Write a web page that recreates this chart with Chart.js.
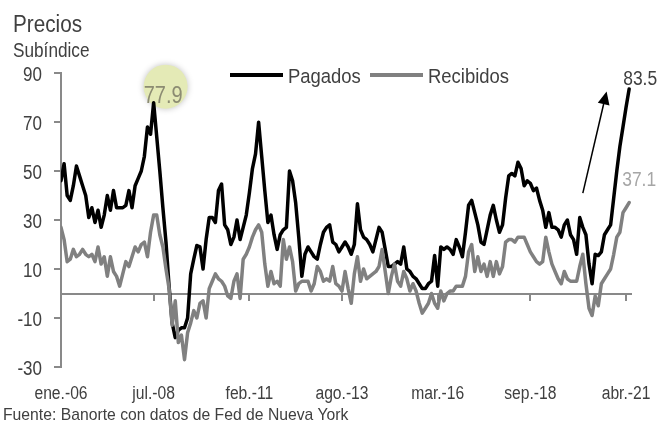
<!DOCTYPE html>
<html lang="es">
<head>
<meta charset="UTF-8">
<title>Precios - Subíndice</title>
<script src="https://cdn.jsdelivr.net/npm/chart.js@4.4.1/dist/chart.umd.min.js"></script>
<style>
  html, body { margin: 0; padding: 0; background: #ffffff; }
  #wrap {
    position: relative; width: 669px; height: 428px; overflow: hidden;
    font-family: "Liberation Sans", Arial, sans-serif; color: #404040;
  }
  #chart { position: absolute; left: 0; top: 0; }
  .txt { position: absolute; line-height: 1; white-space: nowrap; transform-origin: 0 0; }
  #titulo { left: 13px; top: 12.5px; font-size: 23px; transform: scaleX(0.9); }
  #subtitulo { left: 13px; top: 40px; font-size: 20px; transform: scaleX(0.86); }
  #fuente { left: 3px; top: 405.5px; font-size: 17px; transform: scaleX(0.925); }
</style>
</head>
<body>
<div id="wrap">
  <canvas id="chart" width="669" height="428"></canvas>
  <div id="titulo" class="txt">Precios</div>
  <div id="subtitulo" class="txt">Subíndice</div>
  <div id="fuente" class="txt">Fuente: Banorte con datos de Fed de Nueva York</div>
</div>
<script>
// Datos mensuales, ene.-2006 a may.-2021 (índice = meses desde ene.-06)
const pagados = [
  46, 53, 40, 38, 44, 52, 48, 44, 40, 31, 35, 29, // 2006
  34, 27, 32, 40, 34, 42, 35, 35, 35, 36, 42, 35, // 2007
  44, 47, 50, 56, 68, 65, 77.9, 64, 50, 35, 21, 3, // 2008
  -12, -18, -15, -14, -14, -10, 8, 14, 19.6, 19, 10, 22, // 2009
  31, 31, 29, 42, 44.7, 28, 26, 20, 23, 30, 22, 27, // 2010
  32, 41, 51, 57, 69.9, 56, 42, 29, 32, 24, 18, 24, // 2011
  26, 27, 50, 46, 37, 23, 7, 16, 19, 17, 15, 14, // 2012
  20, 25, 27, 28, 21, 20, 17, 19, 21, 19, 16, 20, // 2013
  36.6, 26, 23, 22, 20, 17, 22, 27, 25, 18, 11, 11, // 2014
  12, 13, 12, 19, 10, 9, 7, 6, 4, 2, 2, 4, // 2015
  5, 15.5, 3, 19, 18, 19, 18, 16, 22, 19, 15, 25, // 2016
  36, 38, 33, 28, 21, 20, 26, 32, 36, 30, 25, 28, // 2017
  39, 48, 49, 48, 53.6, 51, 44, 46, 45, 42, 43, 38, // 2018
  34, 27, 33, 27, 27, 26, 23, 28, 30, 24, 22, 16, // 2019
  31, 27, 24, 12, 4, 16, 15.5, 17, 24, 26, 28, 39, // 2020
  50, 60, 68, 76, 83.5 // 2021
];

const recibidos = [
  27, 22, 13, 14, 18, 15, 16, 18, 16, 15, 16, 13, // 2006
  19, 12, 15, 7, 15, 9, 7, 3, 8, 13, 11, 15, // 2007
  19, 17, 20, 21, 15, 25, 32, 32, 24, 19, 10, 2, // 2008
  -13, -3, -20, -17, -27, -16, -12, -7, -10, -4, -3, -10, // 2009
  2, 5, 8, 6, 5, 3, -1, -2, 5, 8, -2, 14, // 2010
  16, 19, 23, 26, 28, 25, 12, 3, 9, 4, 5, 3, // 2011
  22, 14, 19, 13, 1, 4, 5, 5, 5, 1, 4, 11, // 2012
  9, 5, 6, 5, 11, 4, 3, 1, 9, 2, -4, 8, // 2013
  15, 5, 10, 6, 7, 8, 9, 11, 18, 9, 0, 7, // 2014
  12, 5, 3, 9, 6, 1, 4, 1, -4, -8, -6, -4, // 2015
  0, -4, -6, 1, -3, 0, 1, 1, 3, 3, 3, 7, // 2016
  17, 20, 9, 15, 9, 12, 7, 13, 7, 13, 8, 11, // 2017
  21, 22, 22, 21, 23, 23, 23, 20, 17, 15, 13, 12, // 2018
  13, 23, 17, 12, 9, 6, 4, 9, 6, 5, 5, 5, // 2019
  11, 16, 4, -6, -9, -1, -5, 4, 6, 8, 10, 16, // 2020
  23, 25, 33, 35, 37.1 // 2021
];

// Etiquetas del eje X y su mes correspondiente
const etiquetasX = ["ene.-06", "jul.-08", "feb.-11", "ago.-13", "mar.-16", "sep.-18", "abr.-21"];
const mesesEtiqueta = [0, 30, 61, 91, 122, 152, 183];
const ticksY = [-30, -10, 10, 30, 50, 70, 90];

// Flecha (en unidades de datos: mes, valor)
const flechaDesde = [169, 41];
const flechaHasta = [176.7, 82.5];

const colorEje = "#898989";
const colorTexto = "#404040";
const fuente = '"Liberation Sans", Arial, sans-serif';

Chart.defaults.font.family = fuente;
Chart.defaults.color = colorTexto;

function aPuntos(serie) {
  return serie.map((v, i) => ({ x: i, y: v }));
}

// Texto angosto (la fuente original es condensada)
function textoAngosto(ctx, texto, x, y, tam, escala, alinear, color) {
  ctx.save();
  ctx.font = tam + "px " + fuente;
  ctx.fillStyle = color;
  ctx.textBaseline = "alphabetic";
  ctx.textAlign = alinear;
  ctx.translate(x, y);
  ctx.scale(escala, 1);
  ctx.fillText(texto, 0, 0);
  ctx.restore();
}

// Anotaciones: círculo del máximo, valores finales, flecha, leyenda y etiquetas de ejes
const anotaciones = {
  id: "anotaciones",
  beforeDatasetsDraw(chart) {
    const { ctx, scales } = chart;
    const iPico = pagados.indexOf(Math.max(...pagados.slice(0, 60)));
    const px = scales.x.getPixelForValue(iPico);
    const py = scales.y.getPixelForValue(pagados[iPico]);
    ctx.save();
    ctx.shadowColor = "rgba(0,0,0,0.25)";
    ctx.shadowBlur = 6;
    ctx.fillStyle = "#e4eab6";
    ctx.beginPath();
    ctx.arc(px + 12, py - 16, 22, 0, Math.PI * 2);
    ctx.fill();
    ctx.restore();
  },
  afterDatasetsDraw(chart) {
    const { ctx, scales } = chart;
    const x = scales.x, y = scales.y;
    const iPico = pagados.indexOf(Math.max(...pagados.slice(0, 60)));
    const iFin = pagados.length - 1;

    // máximo de 2008
    textoAngosto(ctx, String(pagados[iPico]), x.getPixelForValue(iPico) + 9.5,
      y.getPixelForValue(pagados[iPico]), 23, 0.87, "center", "#8c8c72");

    // últimos valores
    textoAngosto(ctx, String(pagados[iFin]), x.getPixelForValue(iFin) + 11,
      y.getPixelForValue(pagados[iFin]) - 3.5, 20.5, 0.85, "center", colorTexto);
    textoAngosto(ctx, String(recibidos[iFin]), x.getPixelForValue(iFin) + 10,
      y.getPixelForValue(recibidos[iFin]) - 17, 20.5, 0.85, "center", "#a6a6a6");

    // flecha
    const x1 = x.getPixelForValue(flechaDesde[0]), y1 = y.getPixelForValue(flechaDesde[1]);
    const x2 = x.getPixelForValue(flechaHasta[0]), y2 = y.getPixelForValue(flechaHasta[1]);
    const ang = Math.atan2(y2 - y1, x2 - x1);
    const largo = 13, ancho = 6;
    const bx = x2 - largo * Math.cos(ang), by = y2 - largo * Math.sin(ang);
    ctx.save();
    ctx.strokeStyle = "#000000";
    ctx.lineWidth = 1.5;
    ctx.beginPath();
    ctx.moveTo(x1, y1);
    ctx.lineTo(bx, by);
    ctx.stroke();
    ctx.fillStyle = "#000000";
    ctx.beginPath();
    ctx.moveTo(x2, y2);
    ctx.lineTo(bx + ancho * Math.sin(ang), by - ancho * Math.cos(ang));
    ctx.lineTo(bx - ancho * Math.sin(ang), by + ancho * Math.cos(ang));
    ctx.closePath();
    ctx.fill();
    ctx.restore();
  },
  afterDraw(chart) {
    const { ctx, scales } = chart;

    // etiquetas del eje Y
    ticksY.forEach((v) => {
      textoAngosto(ctx, String(v), 42, scales.y.getPixelForValue(v) + 7.5, 20, 0.85, "right", colorTexto);
    });

    // etiquetas del eje X
    mesesEtiqueta.forEach((m, i) => {
      textoAngosto(ctx, etiquetasX[i], scales.x.getPixelForValue(m), 399, 18, 0.87, "center", colorTexto);
    });

    // leyenda
    const items = [
      { texto: "Pagados", color: "#000000", x0: 230 },
      { texto: "Recibidos", color: "#808080", x0: 370 },
    ];
    items.forEach((it) => {
      ctx.save();
      ctx.strokeStyle = it.color;
      ctx.lineWidth = 4;
      ctx.beginPath();
      ctx.moveTo(it.x0, 75);
      ctx.lineTo(it.x0 + 53, 75);
      ctx.stroke();
      ctx.restore();
      textoAngosto(ctx, it.texto, it.x0 + 58, 83, 20.5, 0.9, "left", colorTexto);
    });
  },
};

const ctx = document.getElementById("chart").getContext("2d");
const chart = new Chart(ctx, {
  type: "line",
  data: {
    datasets: [
      {
        label: "Pagados",
        data: aPuntos(pagados),
        borderColor: "#000000",
        borderWidth: 3.5,
        pointRadius: 0,
        tension: 0,
        borderJoinStyle: "round",
        borderCapStyle: "round",
        order: 1,
      },
      {
        label: "Recibidos",
        data: aPuntos(recibidos),
        borderColor: "#808080",
        borderWidth: 3.5,
        pointRadius: 0,
        tension: 0,
        borderJoinStyle: "round",
        borderCapStyle: "round",
        order: 0,
      },
    ],
  },
  options: {
    responsive: false,
    animation: false,
    layout: { padding: { top: 73, right: 38, bottom: 21, left: 0 } },
    plugins: {
      legend: { display: false },
      tooltip: { enabled: false },
    },
    scales: {
      x: {
        type: "linear",
        position: "bottom",
        min: 0,
        max: 184.6,
        afterBuildTicks: (s) => { s.ticks = mesesEtiqueta.map((v) => ({ value: v })); },
        afterFit: (s) => { s.height = 40; },
        grid: { display: false, drawTicks: false },
        border: { display: false },
        ticks: { display: false },
      },
      // línea del cero con sus marcas
      x2: {
        type: "linear",
        position: { y: 0 },
        min: 0,
        max: 184.6,
        afterBuildTicks: (s) => { s.ticks = mesesEtiqueta.map((v) => ({ value: v })); },
        grid: { drawOnChartArea: false, drawTicks: true, tickLength: 6, color: colorEje, lineWidth: 2 },
        border: { display: true, color: colorEje, width: 2 },
        ticks: { display: false },
      },
      y: {
        min: -30,
        max: 90,
        afterBuildTicks: (s) => { s.ticks = ticksY.map((v) => ({ value: v })); },
        afterFit: (s) => { s.width = 61; },
        grid: { drawOnChartArea: false, drawTicks: true, tickLength: 7, color: colorEje, lineWidth: 2 },
        border: { display: true, color: colorEje, width: 2 },
        ticks: { display: false },
      },
    },
  },
  plugins: [anotaciones],
});
</script>
</body>
</html>
